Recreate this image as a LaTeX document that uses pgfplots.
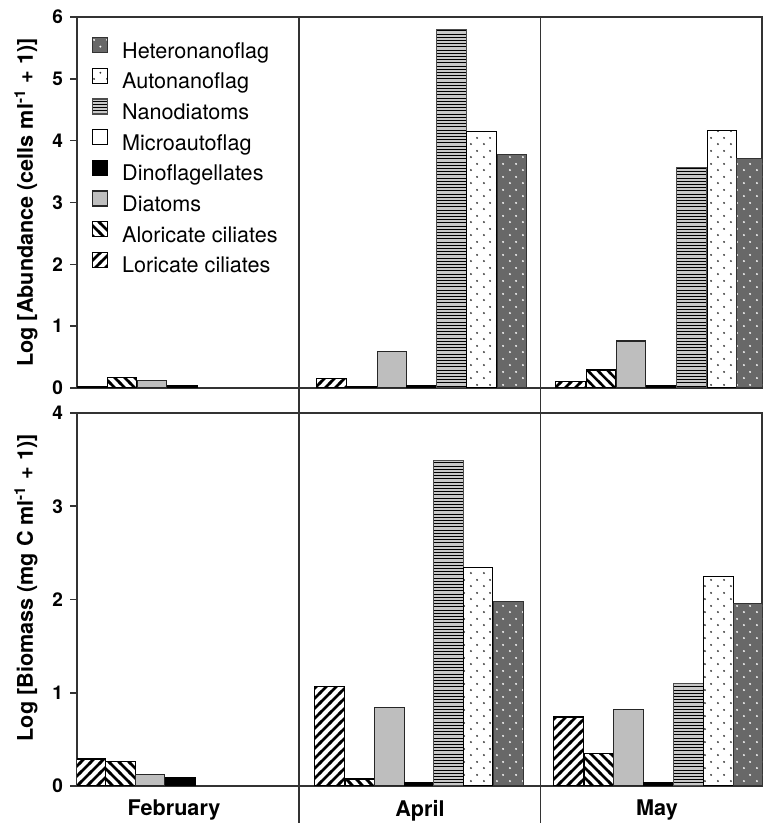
\documentclass[border=0pt]{standalone}
\usepackage{pgfplots}
\pgfplotsset{compat=1.18}
\usepackage{fontspec}
\setmainfont{TeX Gyre Heros}
\usetikzlibrary{patterns}

\pgfdeclarepatternformonly{lorNE}{\pgfqpoint{-1pt}{-1pt}}{\pgfqpoint{6pt}{6pt}}{\pgfqpoint{5pt}{5pt}}{%
  \pgfsetlinewidth{1.25pt}%
  \pgfpathmoveto{\pgfqpoint{-1pt}{-1pt}}\pgfpathlineto{\pgfqpoint{6pt}{6pt}}%
  \pgfusepath{stroke}}
\pgfdeclarepatternformonly{alorNW}{\pgfqpoint{-1pt}{-1pt}}{\pgfqpoint{6pt}{6pt}}{\pgfqpoint{5pt}{5pt}}{%
  \pgfsetlinewidth{1.25pt}%
  \pgfpathmoveto{\pgfqpoint{-1pt}{6pt}}\pgfpathlineto{\pgfqpoint{6pt}{-1pt}}%
  \pgfusepath{stroke}}
\pgfdeclarepatternformonly{sdots}{\pgfqpoint{0pt}{0pt}}{\pgfqpoint{6.5pt}{6.5pt}}{\pgfqpoint{6.5pt}{6.5pt}}{%
  \pgfpathcircle{\pgfqpoint{1.6pt}{1.6pt}}{0.55pt}%
  \pgfpathcircle{\pgfqpoint{4.85pt}{4.85pt}}{0.55pt}%
  \pgfusepath{fill}}
\pgfdeclarepatternformonly{hlinesp}{\pgfqpoint{-1pt}{0pt}}{\pgfqpoint{2pt}{1.6pt}}{\pgfqpoint{1pt}{1.6pt}}{%
  \pgfsetlinewidth{0.5pt}%
  \pgfpathmoveto{\pgfqpoint{-1pt}{0.8pt}}\pgfpathlineto{\pgfqpoint{2pt}{0.8pt}}%
  \pgfusepath{stroke}}

\definecolor{diatgray}{HTML}{BEBEBE}
\definecolor{hetgray}{HTML}{686868}
\definecolor{nanogray}{HTML}{C8C8C8}

\pgfplotsset{
  panel/.style={
    scale only axis, width=342.5pt, anchor=south west,
    xmin=77, xmax=762, ymin=0,
    axis line style={black!80, line width=0.8pt},
    ytick pos=left, tick align=outside, major tick length=3.5pt,
    tick style={black!80, line width=0.8pt},
    xtick style={draw=none},
    /pgf/number format/assume math mode=true,
    yticklabel style={font=\bfseries\fontsize{9.5}{11}\selectfont},
    xticklabel style={font=\bfseries\fontsize{10.8}{12}\selectfont},
    ylabel style={font=\bfseries\fontsize{10.8}{12}\selectfont},
    ybar, bar width=29.6, bar shift=0pt,
  },
  lor/.style={draw=black, line width=0.6pt, fill=white, postaction={pattern=lorNE}},
  alor/.style={draw=black, line width=0.6pt, fill=white, postaction={pattern=alorNW}},
  diat/.style={draw=black!85, line width=0.6pt, fill=diatgray},
  dino/.style={draw=black, line width=0.6pt, fill=black},
  micro/.style={draw=black, line width=0.6pt, fill=white},
  nano/.style={draw=black!70, line width=0.6pt, fill=nanogray, postaction={pattern=hlinesp}},
  auto/.style={draw=black, line width=0.6pt, fill=white, postaction={pattern=sdots, pattern color=black!80}},
  het/.style={draw=black!80, line width=0.6pt, fill=hetgray, postaction={pattern=sdots, pattern color=white}},
}

\begin{document}
\begin{tikzpicture}
\path[use as bounding box] (0,0) rectangle (382.5pt,411.5pt);
% ---------- Abundance ----------
\begin{axis}[panel, at={(38.5pt,217.5pt)}, height=185.5pt, ymax=6,
  ytick={0,1,2,3,4,5,6}, xtick=\empty,
  ylabel={Log [Abundance (cells ml\textsuperscript{-1} + 1)]},
  ylabel style={at={(axis description cs:-0.0745,0.5)}, anchor=center},
  reverse legend, legend cell align=left,
  legend style={at={(0,1)}, anchor=north west, xshift=7.5pt, yshift=-10pt,
    draw=none, fill=none, inner sep=0pt, outer sep=0pt, row sep=2.3pt, column sep=7pt,
    font=\fontsize{10.8}{12}\selectfont,
    nodes={inner sep=0pt, text height=8pt, text depth=2.5pt}},
  legend image code/.code={\draw[#1] (0pt,0pt) rectangle (7.5pt,7.5pt);},
]
\addplot[lor] coordinates {(92,0.015) (331.5,0.15) (570.5,0.10)};
\addlegendentry{Loricate ciliates}
\addplot[alor] coordinates {(122,0.17) (362,0.03) (601,0.29)};
\addlegendentry{Aloricate ciliates}
\addplot[diat] coordinates {(152,0.12) (392,0.59) (631,0.76)};
\addlegendentry{Diatoms}
\addplot[dino] coordinates {(182.5,0.04) (421.5,0.04) (661,0.04)};
\addlegendentry{Dinoflagellates}
\addlegendimage{micro}
\addlegendentry{Microautoflag}
\addplot[nano] coordinates {(451.5,5.80) (691.5,3.56)};
\addlegendentry{Nanodiatoms}
\addplot[auto] coordinates {(481.5,4.15) (722,4.16)};
\addlegendentry{Autonanoflag}
\addplot[het] coordinates {(512,3.77) (751.5,3.71)};
\addlegendentry{Heteronanoflag}
\coordinate (sA) at (axis cs:299,6);
\coordinate (sB) at (axis cs:540.5,6);
\end{axis}
% ---------- Biomass ----------
\begin{axis}[panel, at={(38.5pt,18.5pt)}, height=186.5pt, ymax=4,
  ytick={0,1,2,3,4},
  xtick={174,420,657}, xticklabels={February,April,May},
  ylabel={Log [Biomass (mg C ml\textsuperscript{-1} + 1)]},
  ylabel style={at={(axis description cs:-0.0745,0.531)}, anchor=center},
]
\addplot[lor] coordinates {(91,0.29) (329.5,1.07) (568.5,0.74)};
\addplot[alor] coordinates {(120.5,0.26) (360,0.075) (599,0.35)};
\addplot[diat] coordinates {(150,0.12) (389.5,0.84) (628.5,0.82)};
\addplot[dino] coordinates {(180.5,0.09) (419,0.04) (658,0.04)};
\addplot[nano] coordinates {(448.5,3.49) (688.5,1.10)};
\addplot[auto] coordinates {(478,2.34) (718.5,2.25)};
\addplot[het] coordinates {(508.5,1.98) (748,1.96)};
\end{axis}
\draw[black!80, line width=0.8pt] (sA) -- (sA |- 0,0);
\draw[black!80, line width=0.8pt] (sB) -- (sB |- 0,0);
\end{tikzpicture}
\end{document}
